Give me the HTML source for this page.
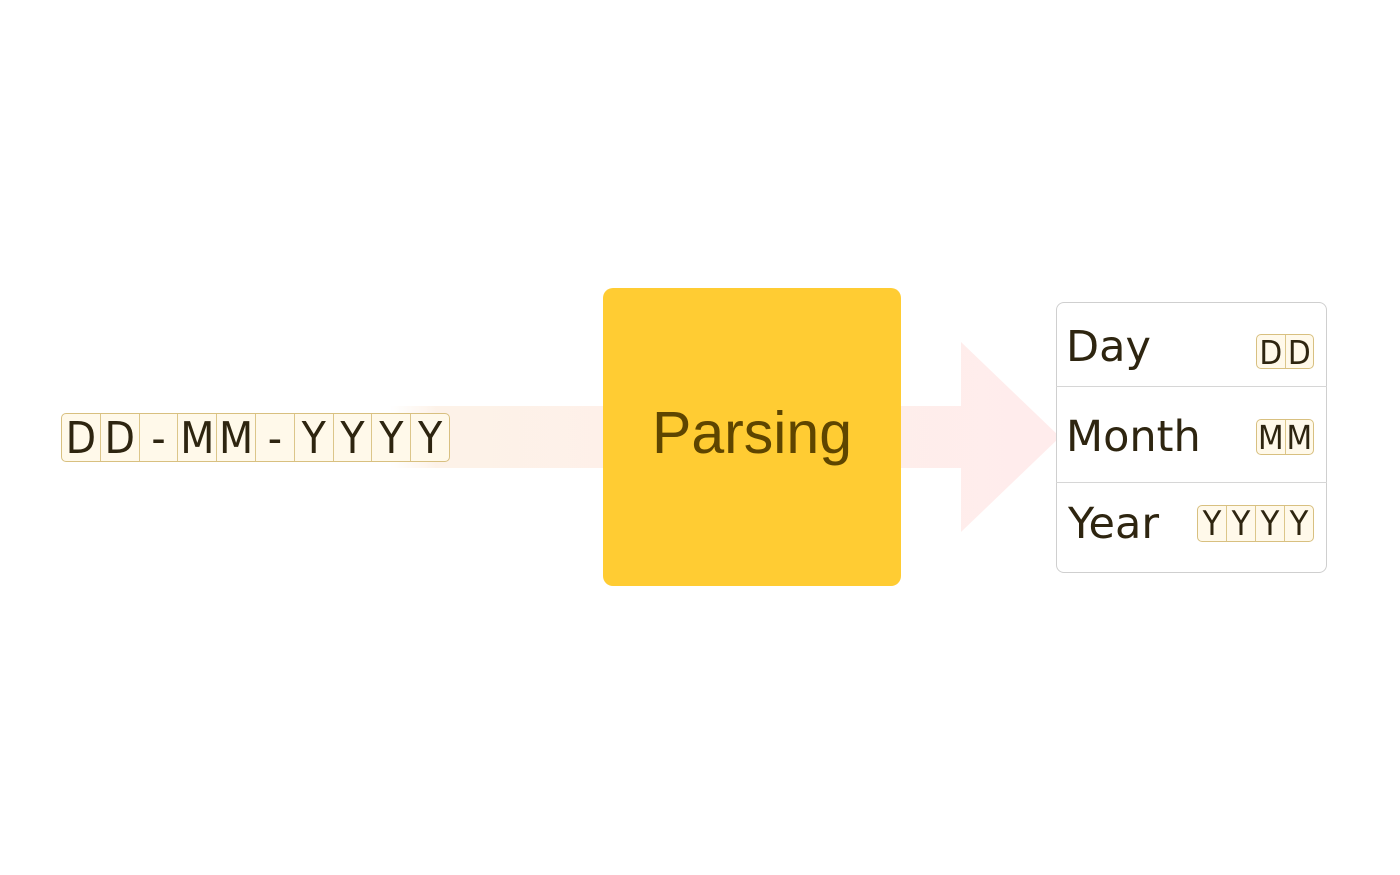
<!DOCTYPE html>
<html><head><meta charset="utf-8"><style>
body{margin:0;width:1400px;height:875px;background:#fff;position:relative;overflow:hidden;font-family:"DejaVu Sans","Liberation Sans",sans-serif}
.chip{position:absolute;display:flex;border:1px solid #d8c080;border-radius:5px;background:#fff9ea;overflow:hidden;box-sizing:border-box;font-family:"DejaVu Sans Condensed","DejaVu Sans",sans-serif;font-stretch:condensed}
.chip span{flex:1;text-align:center;color:#2e2510;border-left:1px solid #dcc68a;box-sizing:border-box}
.chip span:first-child{border-left:none}
.lbl{position:absolute;color:#2e2510;font-size:43px;line-height:1}
.sep{position:absolute;left:1056px;width:271px;height:1px;background:#d6d6d6}
</style></head><body>
<svg width="1400" height="875" style="position:absolute;left:0;top:0">
<defs>
<linearGradient id="g" x1="390" x2="1060" gradientUnits="userSpaceOnUse">
<stop offset="0" stop-color="#fdf3ea" stop-opacity="0"/>
<stop offset="0.07" stop-color="#fdf2e8"/>
<stop offset="1" stop-color="#ffecec"/>
</linearGradient>
</defs>
<polygon points="390,406 961,406 961,342 1060,437 961,532 961,468 390,468" fill="url(#g)"/>
</svg>
<div class="chip" style="left:61px;top:413px;width:389px;height:49px;font-size:44px;line-height:49px">
<span>D</span><span>D</span><span>-</span><span>M</span><span>M</span><span>-</span><span>Y</span><span>Y</span><span>Y</span><span>Y</span></div>
<div style="position:absolute;left:603px;top:288px;width:298px;height:298px;background:#ffcc33;border-radius:10px;display:flex;align-items:center;justify-content:center;font-family:'Liberation Sans',sans-serif;font-size:59px;color:#5e4500;padding-bottom:8px;box-sizing:border-box">Parsing</div>
<div style="position:absolute;left:1056px;top:302px;width:271px;height:271px;border:1px solid #cfcfcf;border-radius:8px;box-sizing:border-box;background:#fff"></div>
<div class="sep" style="top:386px"></div>
<div class="sep" style="top:482px"></div>
<div class="lbl" style="left:1066px;top:326px">Day</div>
<div class="lbl" style="left:1066px;top:416px">Month</div>
<div class="lbl" style="left:1068px;top:503px">Year</div>
<div class="chip" style="left:1256px;top:334px;width:58px;height:35px;font-size:33px;line-height:35px"><span>D</span><span>D</span></div>
<div class="chip" style="left:1256px;top:419px;width:58px;height:36px;font-size:33px;line-height:36px"><span>M</span><span>M</span></div>
<div class="chip" style="left:1197px;top:505px;width:117px;height:37px;font-size:34px;line-height:37px"><span>Y</span><span>Y</span><span>Y</span><span>Y</span></div>
</body></html>
